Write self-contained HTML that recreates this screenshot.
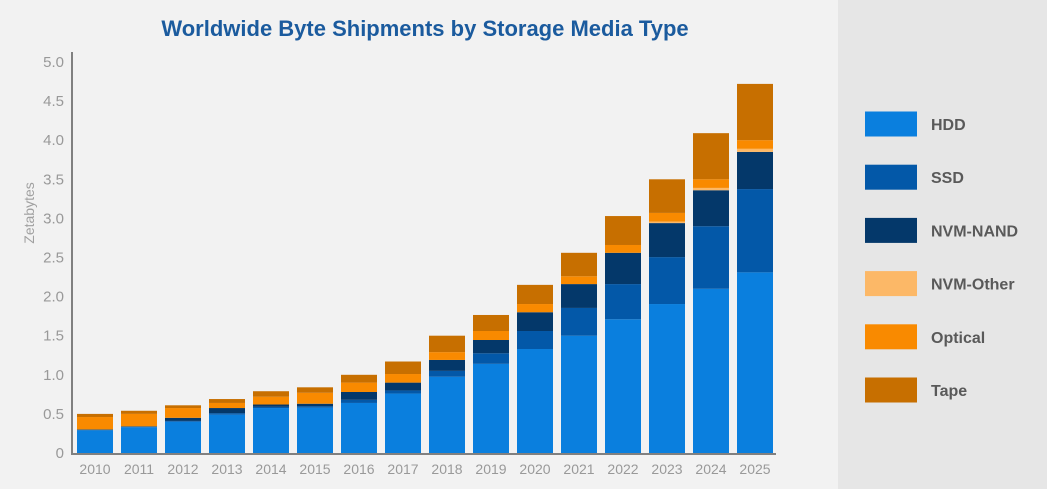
<!DOCTYPE html>
<html><head><meta charset="utf-8"><style>
html,body{margin:0;padding:0;width:1047px;height:489px;overflow:hidden;background:#f2f2f2;font-family:"Liberation Sans",sans-serif;}
#side{position:absolute;left:838px;top:0;width:209px;height:489px;background:#e6e6e6;}
</style></head><body>
<div id="side"></div>
<svg id="chart" width="1047" height="489" style="position:absolute;left:0;top:0">
<text x="425" y="36" text-anchor="middle" font-size="22" font-weight="bold" fill="#1b5b9e">Worldwide Byte Shipments by Storage Media Type</text>
<text transform="translate(34,213) rotate(-90)" text-anchor="middle" font-size="14" fill="#a0a0a0">Zetabytes</text>
<g id="bars"></g><g id="axes"></g><g id="legend"></g>
</svg>
<script>
const years=["2010","2011","2012","2013","2014","2015","2016","2017","2018","2019","2020","2021","2022","2023","2024","2025"];
const hdd=[0.29,0.33,0.40,0.49,0.575,0.58,0.64,0.76,0.975,1.14,1.33,1.50,1.71,1.905,2.10,2.31];
const ssd=[0.01,0.01,0.01,0.02,0.015,0.02,0.04,0.04,0.075,0.135,0.23,0.355,0.45,0.60,0.80,1.065];
const nand=[0,0,0.04,0.065,0.03,0.03,0.10,0.10,0.14,0.17,0.24,0.305,0.40,0.435,0.46,0.475];
const nvmOther=[0,0,0,0,0,0,0,0,0,0,0,0,0,0.02,0.03,0.04];
const optical=[0.16,0.16,0.125,0.065,0.10,0.14,0.12,0.11,0.10,0.115,0.105,0.10,0.10,0.11,0.11,0.11];
const tape=[0.04,0.04,0.035,0.05,0.07,0.07,0.10,0.16,0.21,0.205,0.245,0.30,0.37,0.43,0.59,0.72];
const yTicks=["0","0.5","1.0","1.5","2.0","2.5","3.0","3.5","4.0","4.5","5.0"];
const seriesNames=["HDD","SSD","NVM-NAND","NVM-Other","Optical","Tape"];
const seriesColors=["#0a7fde","#0358a8","#04386a","#fcb867","#f98a00","#c76f00"];
const NS="http://www.w3.org/2000/svg";
const series=[hdd,ssd,nand,nvmOther,optical,tape];
const y0=453,pxPer=78.2;
function yScale(v){return y0-v*pxPer;}
function xScale(i){return 77+i*44;}
const bw=36;
const gb=document.getElementById('bars');
years.forEach((yr,i)=>{
  let cum=0;
  series.forEach((s,k)=>{
    const v=s[i]; if(v<=0){return;}
    const r=document.createElementNS(NS,'rect');
    r.setAttribute('x',xScale(i));r.setAttribute('width',bw);
    r.setAttribute('y',yScale(cum+v));r.setAttribute('height',yScale(cum)-yScale(cum+v));
    r.setAttribute('fill',seriesColors[k]);
    
    
    gb.appendChild(r); cum+=v;
  });
});
const ga=document.getElementById('axes');
const ax=document.createElementNS(NS,'path');
ax.setAttribute('d','M72,52 V454 H776');ax.setAttribute('stroke','#808080');ax.setAttribute('stroke-width','2');ax.setAttribute('fill','none');


ga.appendChild(ax);
yTicks.forEach((t,i)=>{
  const tx=document.createElementNS(NS,'text');
  tx.setAttribute('x',64);tx.setAttribute('y',yScale(parseFloat(t))+5);
  tx.setAttribute('text-anchor','end');tx.setAttribute('font-size','15');tx.setAttribute('fill','#999');
  tx.textContent=t;
  
  
  ga.appendChild(tx);
});
years.forEach((yr,i)=>{
  const tx=document.createElementNS(NS,'text');
  tx.setAttribute('x',xScale(i)+bw/2);tx.setAttribute('y',474);
  tx.setAttribute('text-anchor','middle');tx.setAttribute('font-size','14');tx.setAttribute('fill','#999');
  tx.textContent=yr;
  
  
  ga.appendChild(tx);
});
const gl=document.getElementById('legend');
seriesNames.forEach((n,k)=>{
  const cy=124+k*53.2;
  const g=document.createElementNS(NS,'g');
  
  
  const r=document.createElementNS(NS,'rect');
  r.setAttribute('x',865);r.setAttribute('y',cy-12.5);r.setAttribute('width',52);r.setAttribute('height',25);r.setAttribute('fill',seriesColors[k]);
  const t=document.createElementNS(NS,'text');
  t.setAttribute('x',931);t.setAttribute('y',cy+6);t.setAttribute('font-size','16');t.setAttribute('font-weight','bold');t.setAttribute('fill','#595959');
  t.textContent=n;
  g.appendChild(r);g.appendChild(t);gl.appendChild(g);
});
</script>
</body></html>
